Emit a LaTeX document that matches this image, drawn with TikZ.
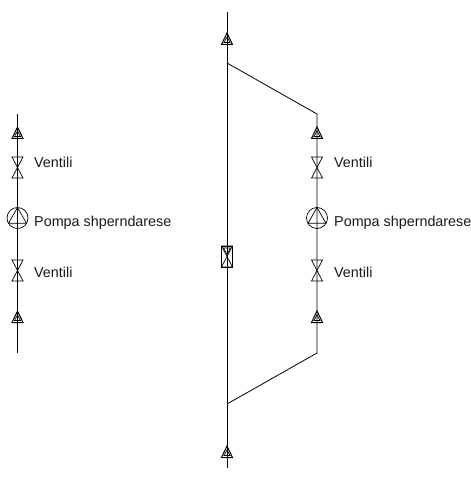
\documentclass[tikz,border=0pt]{standalone}
\usepackage{fontspec}
\setmainfont{Liberation Sans}
\tikzset{
  x=1bp,y=-1bp,
  pipeline/.style={draw=black,line width=0.8bp},
  symline/.style={draw=black,line width=0.7bp,line join=miter},
  tag/.style={anchor=west,inner sep=0pt,text=black!90,font=\fontsize{14.35bp}{16bp}\selectfont},
  pics/valvesym/.style={code={
    \draw[symline] (-5.5,-10.5) -- (5.5,-10.5) -- (-5.5,10.5) -- (5.5,10.5) -- cycle;
  }},
  pics/checksym/.style={code={
    \draw[symline,line width=1bp] (0,-6) -- (5.5,5.5) -- (-5.5,5.5) -- cycle;
    \draw[symline] (0,-2) -- (3,3.5) -- (-3,3.5) -- cycle;
  }},
  pics/pumpsym/.style={code={
    \draw[symline] (0,0) circle (10.5);
    \draw[symline] (0,-10.5) -- (9,5.3) -- (-9,5.3) -- cycle;
  }},
  pics/boxvalvesym/.style={code={
    \draw[symline] (-5.5,-10.5) rectangle (5.5,10.5);
    \draw[symline] (-5.5,-10.5) -- (5.5,-10.5) -- (-5.5,10.5) -- (5.5,10.5) -- cycle;
    \draw[symline] (-3.5,-8.5) -- (3.5,-8.5) -- (0,-2) -- cycle;
  }},
}
\begin{document}
\begin{tikzpicture}
\useasboundingbox (0,0) rectangle (471,497);
% junctions and line ends
\coordinate (lt) at (17.5,114);
\coordinate (lb) at (17.5,353);
\coordinate (mt) at (227,12);
\coordinate (mb) at (227,468);
\coordinate (ma) at (227,63);
\coordinate (mc) at (227,404);
\coordinate (rt) at (317,114);
\coordinate (rb) at (317,353);
% pipes
\draw[pipeline] (lt) -- (lb);
\draw[pipeline] (mt) -- (mb);
\draw[pipeline] (ma) -- (rt) -- (rb) -- (mc);
% left column symbols
\pic at (17.5,133) {checksym};
\pic at (17.5,167.5) {valvesym};
\pic at (17.5,218) {pumpsym};
\pic at (17.5,270.5) {valvesym};
\pic at (17.5,317) {checksym};
% middle column symbols
\pic at (227,39) {checksym};
\pic at (227,256.5) {boxvalvesym};
\pic at (227,452) {checksym};
% right column symbols
\pic at (317,133) {checksym};
\pic at (317,167.5) {valvesym};
\pic at (317,218) {pumpsym};
\pic at (317,270.5) {valvesym};
\pic at (317,317) {checksym};
% labels
\node[tag] (l1) at (34,162.5) {Ventili};
\node[tag] (l2) at (34,223) {Pompa shperndarese};
\node[tag] (l3) at (34,272) {Ventili};
\node[tag] (r1) at (334,162.5) {Ventili};
\node[tag] (r2) at (334,223) {Pompa shperndarese};
\node[tag] (r3) at (334,272) {Ventili};
\end{tikzpicture}
\end{document}
